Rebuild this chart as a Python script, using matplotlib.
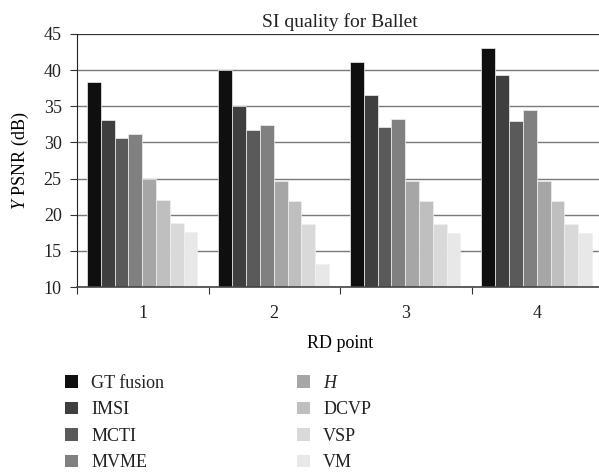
import numpy as np
import matplotlib
matplotlib.use("Agg")
import matplotlib.pyplot as plt
from matplotlib.patches import Patch

# 数据
rd_points = ["1", "2", "3", "4"]
methods = ["GT fusion", "IMSI", "MCTI", "MVME", "$H$", "DCVP", "VSP", "VM"]
colors = ["#0f0f0f", "#3f3f3f", "#5a5a5a", "#808080",
          "#a6a6a6", "#bfbfbf", "#d9d9d9", "#e8e8e8"]

gt_fusion = [38.3, 40.0, 41.1, 43.0]
imsi = [33.1, 35.0, 36.6, 39.3]
mcti = [30.6, 31.7, 32.2, 33.0]
mvme = [31.1, 32.4, 33.3, 34.5]
h_vals = [24.9, 24.6, 24.6, 24.6]
dcvp = [22.1, 21.95, 21.95, 21.95]
vsp = [18.85, 18.7, 18.7, 18.7]
vm = [17.6, 13.15, 17.5, 17.5]

series = [gt_fusion, imsi, mcti, mvme, h_vals, dcvp, vsp, vm]

plt.rcParams['font.family'] = ['Liberation Serif', 'DejaVu Serif']
plt.rcParams['mathtext.fontset'] = 'custom'
plt.rcParams['mathtext.rm'] = 'Liberation Serif'
plt.rcParams['mathtext.it'] = 'Liberation Serif:italic'
plt.rcParams['font.size'] = 13
plt.rcParams['text.color'] = '#222222'
plt.rcParams['xtick.color'] = '#222222'
plt.rcParams['ytick.color'] = '#222222'

fig = plt.figure(figsize=(5.99, 4.73), dpi=100)
ax = fig.add_axes([77 / 599, 186 / 473, 526 / 599, 253 / 473])

x = np.arange(len(rd_points))
w = 0.105
for i, (vals, c) in enumerate(zip(series, colors)):
    offs = (i - 3.5) * w - 0.004
    ax.bar(x + offs, np.array(vals) - 10, w, bottom=10, color=c,
           edgecolor="#f0f0f0", linewidth=0.5, zorder=3)

ax.set_ylim(10, 45)
ax.set_xlim(-0.5, 3.5)
ax.set_yticks(np.arange(10, 46, 5))
ax.yaxis.grid(True, color="#7a7a7a", linewidth=1.0, zorder=1)
ax.axhline(45, color="#222222", linewidth=1.2, zorder=2)

# 类别标签放在中间，刻度放在分界
ax.set_xticks([-0.5, 0.5, 1.5, 2.5])
ax.set_xticklabels([])
ax.set_xticks(x, minor=True)
ax.set_xticklabels(rd_points, minor=True)
ax.tick_params(axis="x", which="minor", length=0, pad=13)
ax.tick_params(axis="x", which="major", length=5, direction="out", color="#333333")
ax.tick_params(axis="y", length=5, direction="out", color="#333333", pad=6)

for s in ["top", "right"]:
    ax.spines[s].set_visible(False)
ax.spines["left"].set_color("#222222")
ax.spines["bottom"].set_color("#444444")
ax.spines["bottom"].set_linewidth(1.2)
ax.spines["bottom"].set_zorder(4)

ax.set_title("SI quality for Ballet", pad=5, fontsize=14)
ax.set_xlabel("RD point", labelpad=9)
ax.set_ylabel("$Y$ PSNR (dB)", labelpad=9)

handles = [Patch(facecolor=c, edgecolor="none") for c in colors]
leg_kw = dict(loc="upper left", frameon=False, handlelength=0.7,
              handleheight=0.7, handletextpad=0.75, labelspacing=0.52,
              borderaxespad=0, borderpad=0)
fig.legend(handles[:4], methods[:4],
           bbox_to_anchor=(65 / 599, 1 - 375 / 473), **leg_kw)
fig.legend(handles[4:], methods[4:],
           bbox_to_anchor=(297 / 599, 1 - 375 / 473), **leg_kw)

fig.savefig("out.png", dpi=100)
